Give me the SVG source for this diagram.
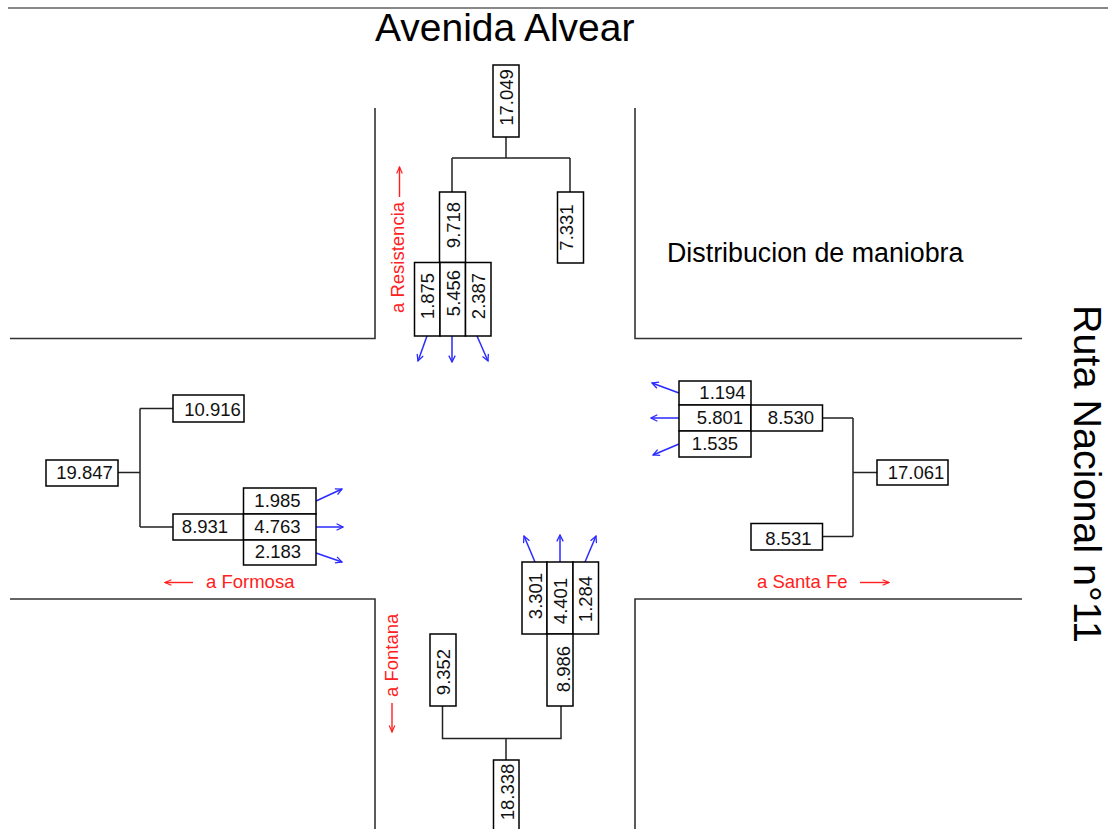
<svg xmlns="http://www.w3.org/2000/svg" width="1108" height="829" viewBox="0 0 1108 829">
<defs>
<style>
.st{fill:none;stroke:#333;stroke-width:1.6}
.bx{fill:#fff;stroke:#000;stroke-width:1.5}
.cn{fill:none;stroke:#222;stroke-width:1.5}
.bl{fill:none;stroke:#2a2aff;stroke-width:1.5}
.rd{fill:none;stroke:#ff2020;stroke-width:1.4}
text{font-family:"Liberation Sans",Arial,sans-serif}
.n{font-size:18.5px;fill:#111;text-anchor:middle}
.r{font-size:18.5px;fill:#ff2020}
.t{font-size:39px;fill:#000}
</style>
<marker id="ab" viewBox="0 0 10 10" refX="9" refY="5" markerWidth="8" markerHeight="8" markerUnits="userSpaceOnUse" orient="auto">
<path d="M1,1 L9,5 L1,9" fill="none" stroke="#2a2aff" stroke-width="1.6"/>
</marker>
<marker id="ar" viewBox="0 0 10 10" refX="9" refY="5" markerWidth="8" markerHeight="8" markerUnits="userSpaceOnUse" orient="auto">
<path d="M1,1.5 L9,5 L1,8.5" fill="none" stroke="#ff2020" stroke-width="1.5"/>
</marker>
</defs>
<rect width="1108" height="829" fill="#fff"/>

<g id="streets">
<path d="M8 8 H1108" fill="none" stroke="#888" stroke-width="2"/>
<path class="st" d="M10 338.5 H375 V108"/>
<path class="st" d="M635 108 V338.5 H1022"/>
<path class="st" d="M10 599 H375 V829"/>
<path class="st" d="M635 829 V599 H1022"/>
</g>

<g id="labels">
<text class="t" x="375" y="41">Avenida Alvear</text>
<text class="t" transform="translate(1074,305) rotate(90)" x="0" y="0" style="font-size:39.5px">Ruta Nacional n°11</text>
<text x="667" y="262" style="font-size:26.8px;fill:#000">Distribucion de maniobra</text>
<text class="r" transform="translate(404,313) rotate(-90)">a Resistencia</text>
<text class="r" x="206" y="588">a Formosa</text>
<text class="r" x="757" y="588">a Santa Fe</text>
<text class="r" transform="translate(398,697) rotate(-90)">a Fontana</text>
</g>

<g id="connectors">
<path class="cn" d="M506 137 V158 M452 158 H570 M452 158 V192 M570 158 V192"/>
<path class="cn" d="M118 472.5 H140 M140 408.5 V527 M140 408.5 H173 M140 527 H173"/>
<path class="cn" d="M822.5 418 H853 M853 418 V536.5 M853 536.5 H822.5 M853 472.5 H877"/>
<path class="cn" d="M442.5 706 V738.5 H561 V706 M506 738.5 V760"/>
<g id="flows">
<path class="bl" marker-end="url(#ab)" d="M427 336 L418 361"/>
<path class="bl" marker-end="url(#ab)" d="M452 336 L452 362"/>
<path class="bl" marker-end="url(#ab)" d="M477 336 L488 361"/>
<path class="bl" marker-end="url(#ab)" d="M316 501 L342 489"/>
<path class="bl" marker-end="url(#ab)" d="M316 527 L343 527"/>
<path class="bl" marker-end="url(#ab)" d="M316 553 L342 562"/>
<path class="bl" marker-end="url(#ab)" d="M679 393 L652 383"/>
<path class="bl" marker-end="url(#ab)" d="M679 418 L651 418"/>
<path class="bl" marker-end="url(#ab)" d="M679 444 L653 455"/>
<path class="bl" marker-end="url(#ab)" d="M535 562 L524 536"/>
<path class="bl" marker-end="url(#ab)" d="M560 562 L560 535"/>
<path class="bl" marker-end="url(#ab)" d="M585 562 L596 536"/>
</g>
<g id="direction-arrows">
<path class="rd" marker-end="url(#ar)" d="M399.5 197 V167"/>
<path class="rd" marker-end="url(#ar)" d="M193 582.5 H165"/>
<path class="rd" marker-end="url(#ar)" d="M860 582.5 H889"/>
<path class="rd" marker-end="url(#ar)" d="M392 703 V732"/>
</g>
</g>

<!-- North -->
<g id="n-17049"><rect class="bx" x="493" y="65" width="26" height="72"/><text class="n" transform="translate(513,97.5) rotate(-90)">17.049</text></g>
<g id="n-9718"><rect class="bx" x="439.5" y="192" width="26" height="70.5"/><text class="n" transform="translate(459.5,225) rotate(-90)">9.718</text></g>
<g id="n-7331"><rect class="bx" x="557.5" y="192" width="26" height="71"/><text class="n" transform="translate(572.5,227.5) rotate(-90)">7.331</text></g>
<g id="n-1875"><rect class="bx" x="414.5" y="262.5" width="25.5" height="73.5"/><text class="n" transform="translate(434,296) rotate(-90)">1.875</text></g>
<g id="n-5456"><rect class="bx" x="440" y="262.5" width="25.5" height="73.5"/><text class="n" transform="translate(460,293) rotate(-90)">5.456</text></g>
<g id="n-2387"><rect class="bx" x="465.5" y="262.5" width="25.5" height="73.5"/><text class="n" transform="translate(485,296) rotate(-90)">2.387</text></g>

<!-- West -->
<g id="n-10916"><rect class="bx" x="173" y="395" width="71" height="27"/><text class="n" x="212.5" y="415.5">10.916</text></g>
<g id="n-19847"><rect class="bx" x="46" y="460" width="72" height="26"/><text class="n" x="84.5" y="479">19.847</text></g>
<g id="n-8931"><rect class="bx" x="173" y="514" width="70.5" height="26"/><text class="n" x="205" y="533">8.931</text></g>
<g id="n-1985"><rect class="bx" x="243.5" y="488" width="72.5" height="26"/><text class="n" x="277.5" y="507">1.985</text></g>
<g id="n-4763"><rect class="bx" x="243.5" y="514" width="72.5" height="26"/><text class="n" x="277.5" y="533">4.763</text></g>
<g id="n-2183"><rect class="bx" x="243.5" y="540" width="72.5" height="25"/><text class="n" x="278" y="558">2.183</text></g>

<!-- East -->
<g id="n-1194"><rect class="bx" x="679" y="381" width="72" height="24"/><text class="n" x="722.5" y="399">1.194</text></g>
<g id="n-5801"><rect class="bx" x="679" y="405" width="72" height="26"/><text class="n" x="720" y="424">5.801</text></g>
<g id="n-1535"><rect class="bx" x="679" y="431" width="72" height="26"/><text class="n" x="715" y="450">1.535</text></g>
<g id="n-8530"><rect class="bx" x="751" y="405" width="71.5" height="26"/><text class="n" x="791" y="423.5">8.530</text></g>
<g id="n-17061"><rect class="bx" x="877" y="460" width="71" height="25"/><text class="n" x="916" y="479">17.061</text></g>
<g id="n-8531"><rect class="bx" x="751" y="523.5" width="71.5" height="26.5"/><text class="n" x="788.5" y="545">8.531</text></g>

<!-- South -->
<g id="n-3301"><rect class="bx" x="522" y="562" width="25" height="72"/><text class="n" transform="translate(542,596) rotate(-90)">3.301</text></g>
<g id="n-4401"><rect class="bx" x="547" y="562" width="26" height="72"/><text class="n" transform="translate(566.5,601) rotate(-90)">4.401</text></g>
<g id="n-1284"><rect class="bx" x="573" y="562" width="25.5" height="72"/><text class="n" transform="translate(591.5,599) rotate(-90)">1.284</text></g>
<g id="n-8986"><rect class="bx" x="547" y="634" width="26" height="72"/><text class="n" transform="translate(569.5,669) rotate(-90)">8.986</text></g>
<g id="n-9352"><rect class="bx" x="430" y="634" width="26" height="72"/><text class="n" transform="translate(449.5,672) rotate(-90)">9.352</text></g>
<g id="n-18338"><rect class="bx" x="493.5" y="760" width="25.5" height="75"/><text class="n" transform="translate(513.5,792) rotate(-90)">18.338</text></g>
</svg>
